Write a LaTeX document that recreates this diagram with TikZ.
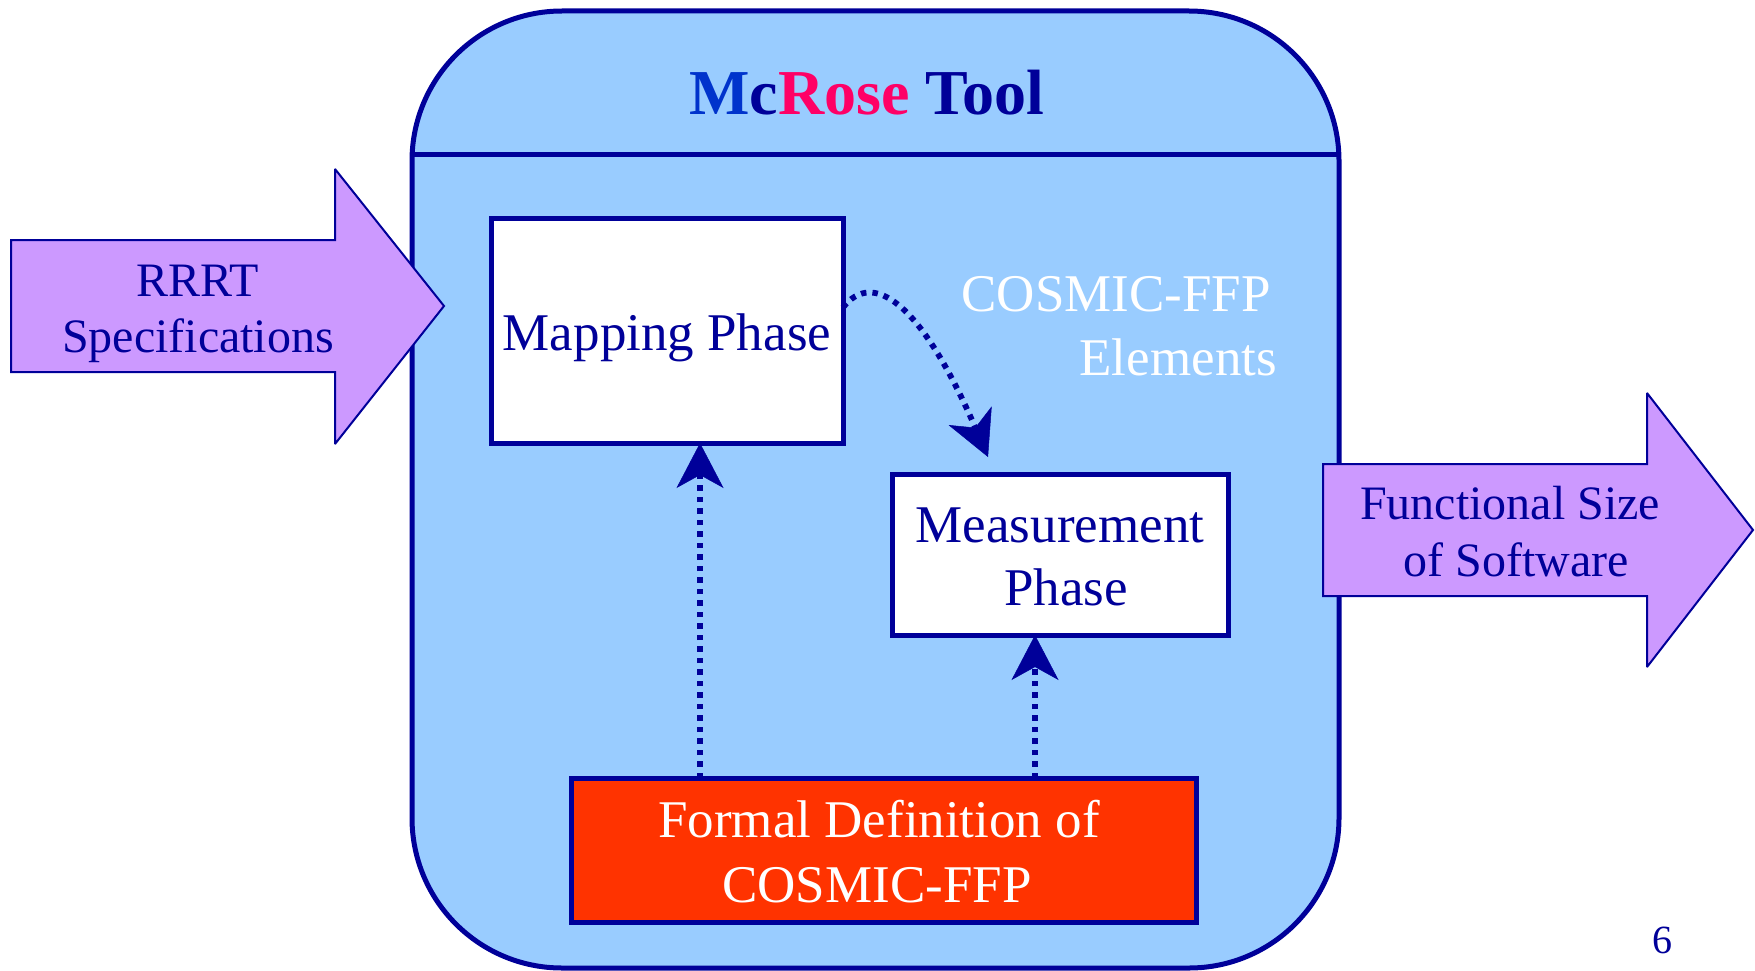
\documentclass[tikz,border=0pt]{standalone}
\usepackage{fontspec}
\setmainfont{Liberation Serif}
\usetikzlibrary{arrows.meta}
\definecolor{navy}{HTML}{000099}
\definecolor{lightblue}{HTML}{99CCFF}
\definecolor{lavender}{HTML}{CC99FF}
\definecolor{redbox}{HTML}{FF3300}
\definecolor{rosepink}{HTML}{FF0066}
\definecolor{mblue}{HTML}{0033CC}
\begin{document}
\begin{tikzpicture}[x=1pt,y=-1pt,
  phasebox/.style={draw=navy, line width=5pt, fill=white, rectangle, inner sep=0pt, outer sep=0pt},
  txt/.style={anchor=base, inner sep=0pt, text=navy, font=\fontsize{53}{63}\selectfont},
  arrtxt/.style={anchor=base, inner sep=0pt, text=navy, font=\fontsize{48}{57}\selectfont},
  whitetxt/.style={anchor=base, inner sep=0pt, text=white, font=\fontsize{53}{63}\selectfont},
  bigarrow/.style={draw=navy, line width=2pt, fill=lavender, line join=miter, miter limit=2},
  dotarrow/.style={draw=navy, line width=5.8pt, dash pattern=on 5.5pt off 6pt,
    -{Stealth[length=45pt,width=47pt,inset=13pt,line width=0.5pt]}}
]
\useasboundingbox (0,0) rectangle (1755,971);

% main tool container
\node[draw=navy, line width=5pt, fill=lightblue, rounded corners=150pt, inner sep=0pt, outer sep=0pt,
      minimum width=927pt, minimum height=957pt] (tool) at (875.5,489.5) {};
\coordinate (hdr) at (0,154);
\draw[navy, line width=5pt] (tool.west |- hdr) -- (tool.east |- hdr);

% title
\node[anchor=base, inner sep=0pt, font=\bfseries\fontsize{64}{70}\selectfont] (title) at (867,114)
  {\textcolor{mblue}{M}\textcolor{navy}{c}\textcolor{rosepink}{Rose} \textcolor{navy}{Tool}};

% boxes
\node[phasebox, minimum width=352pt, minimum height=225pt] (map) at (667,330.5) {};
\node[phasebox, minimum width=336pt, minimum height=161pt] (meas) at (1060,554.5) {};
\node[phasebox, fill=redbox, minimum width=625pt, minimum height=144pt] (formal) at (883.5,850) {};

\node[txt] (maptxt) at (667,350) {Mapping Phase};
\node[txt] (meas1) at (1060,542) {Measurement};
\node[txt] (meas2) at (1066,605) {Phase};
\node[whitetxt] (form1) at (879,837) {Formal Definition of};
\node[whitetxt] (form2) at (877,902) {COSMIC-FFP};
\node[whitetxt, anchor=base east] (elem1) at (1271,311) {COSMIC-FFP};
\node[whitetxt, anchor=base east] (elem2) at (1277,375) {Elements};

% connectors
\coordinate (a1) at (700,0);
\coordinate (a2) at (1035,0);
\coordinate (ctip) at (988,457);
\draw[dotarrow] (formal.north -| a1) -- (map.south -| a1);
\draw[dotarrow] (formal.north -| a2) -- (meas.south -| a2);
\draw[dotarrow] ([yshift=23pt]map.east) .. controls (872,270) and (920,300) .. (ctip);

% input arrow
\draw[bigarrow] (11,240) -- (335,240) -- (335,169) -- (444,306) -- (335,444) -- (335,372) -- (11,372) -- cycle;
\node[arrtxt] (in1) at (198,296) {RRRT};
\node[arrtxt] (in2) at (198,352) {Specifications};

% output arrow
\draw[bigarrow] (1323,464) -- (1647,464) -- (1647,393) -- (1753,530) -- (1647,667) -- (1647,596) -- (1323,596) -- cycle;
\node[arrtxt] (out1) at (1510,519) {Functional Size};
\node[arrtxt] (out2) at (1516,576) {of Software};

% page number
\node[anchor=base, inner sep=0pt, text=navy, font=\fontsize{40}{48}\selectfont] (pg) at (1662,953) {6};
\end{tikzpicture}
\end{document}
